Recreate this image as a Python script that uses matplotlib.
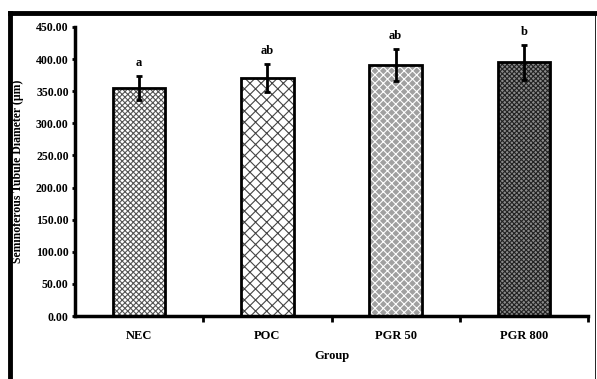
import matplotlib.pyplot as plt
from matplotlib.lines import Line2D
from matplotlib.ticker import FormatStrFormatter

plt.rcParams['font.family'] = ['Liberation Serif', 'DejaVu Serif']
plt.rcParams['font.weight'] = 'bold'
plt.rcParams['hatch.linewidth'] = 0.8

groups = ['NEC', 'POC', 'PGR 50', 'PGR 800']
means = [355, 370, 391, 395]
errors = [19, 22, 25, 27]
letters = ['a', 'ab', 'ab', 'b']

# заливка и штриховка для каждого столбика
faces = ['white', 'white', '#a0a0a0', '#8a8a8a']
hatch_colors = ['#555555', '#444444', 'white', '#222222']
hatches = ['xxxxxx', 'xxx', 'xxxx', 'xxxxxxx']

fig = plt.figure(figsize=(5.97, 3.79), dpi=100)
ax = fig.add_axes([0.1256, 0.1662, 0.8594, 0.7626])

x = range(len(groups))
# сначала штриховка, потом чёрный контур
ax.bar(x, means, width=0.41, color=faces, edgecolor=hatch_colors, hatch=hatches, linewidth=0)
ax.bar(x, means, width=0.41, fill=False, edgecolor='black', linewidth=2)
ax.errorbar(x, means, yerr=errors, fmt='none', ecolor='black', elinewidth=2, capsize=2.5, capthick=2)

for i in x:
    ax.annotate(letters[i], (i, means[i] + errors[i]), xytext=(0, 5), textcoords='offset points',
                ha='center', va='bottom', fontsize=9, fontweight='bold')

ax.set_xlim(-0.5, 3.5)
ax.set_ylim(0, 450)
ax.set_yticks(range(0, 451, 50))
ax.yaxis.set_major_formatter(FormatStrFormatter('%.2f'))
ax.set_xticks(list(x))
ax.set_xticklabels(groups)
ax.set_xticks([0.5, 1.5, 2.5, 3.5], minor=True)
ax.tick_params(axis='x', which='major', length=0, pad=10, labelsize=9)
ax.tick_params(axis='x', which='minor', length=4, width=2, direction='out')
ax.tick_params(axis='y', length=2.5, width=2, direction='out', labelsize=8.5, pad=2)

for s in ['top', 'right']:
    ax.spines[s].set_visible(False)
for s in ['left', 'bottom']:
    ax.spines[s].set_linewidth(2.5)

ax.set_ylabel('Seminoferous Tubule Diameter (µm)', fontsize=8.5, fontweight='bold')
ax.yaxis.set_label_coords(-0.1, 0.5)
ax.set_xlabel('Group', fontsize=9, fontweight='bold', labelpad=6)

# рамка вокруг рисунка
fig.add_artist(Line2D([0.017, 1.0], [0.966, 0.966], color='black', linewidth=3.5, transform=fig.transFigure))
fig.add_artist(Line2D([0.017, 0.017], [0.0, 0.966], color='black', linewidth=3.5, transform=fig.transFigure))
fig.add_artist(Line2D([0.997, 0.997], [0.0, 0.966], color='black', linewidth=0.6, transform=fig.transFigure))

fig.savefig('out.png', dpi=100)
